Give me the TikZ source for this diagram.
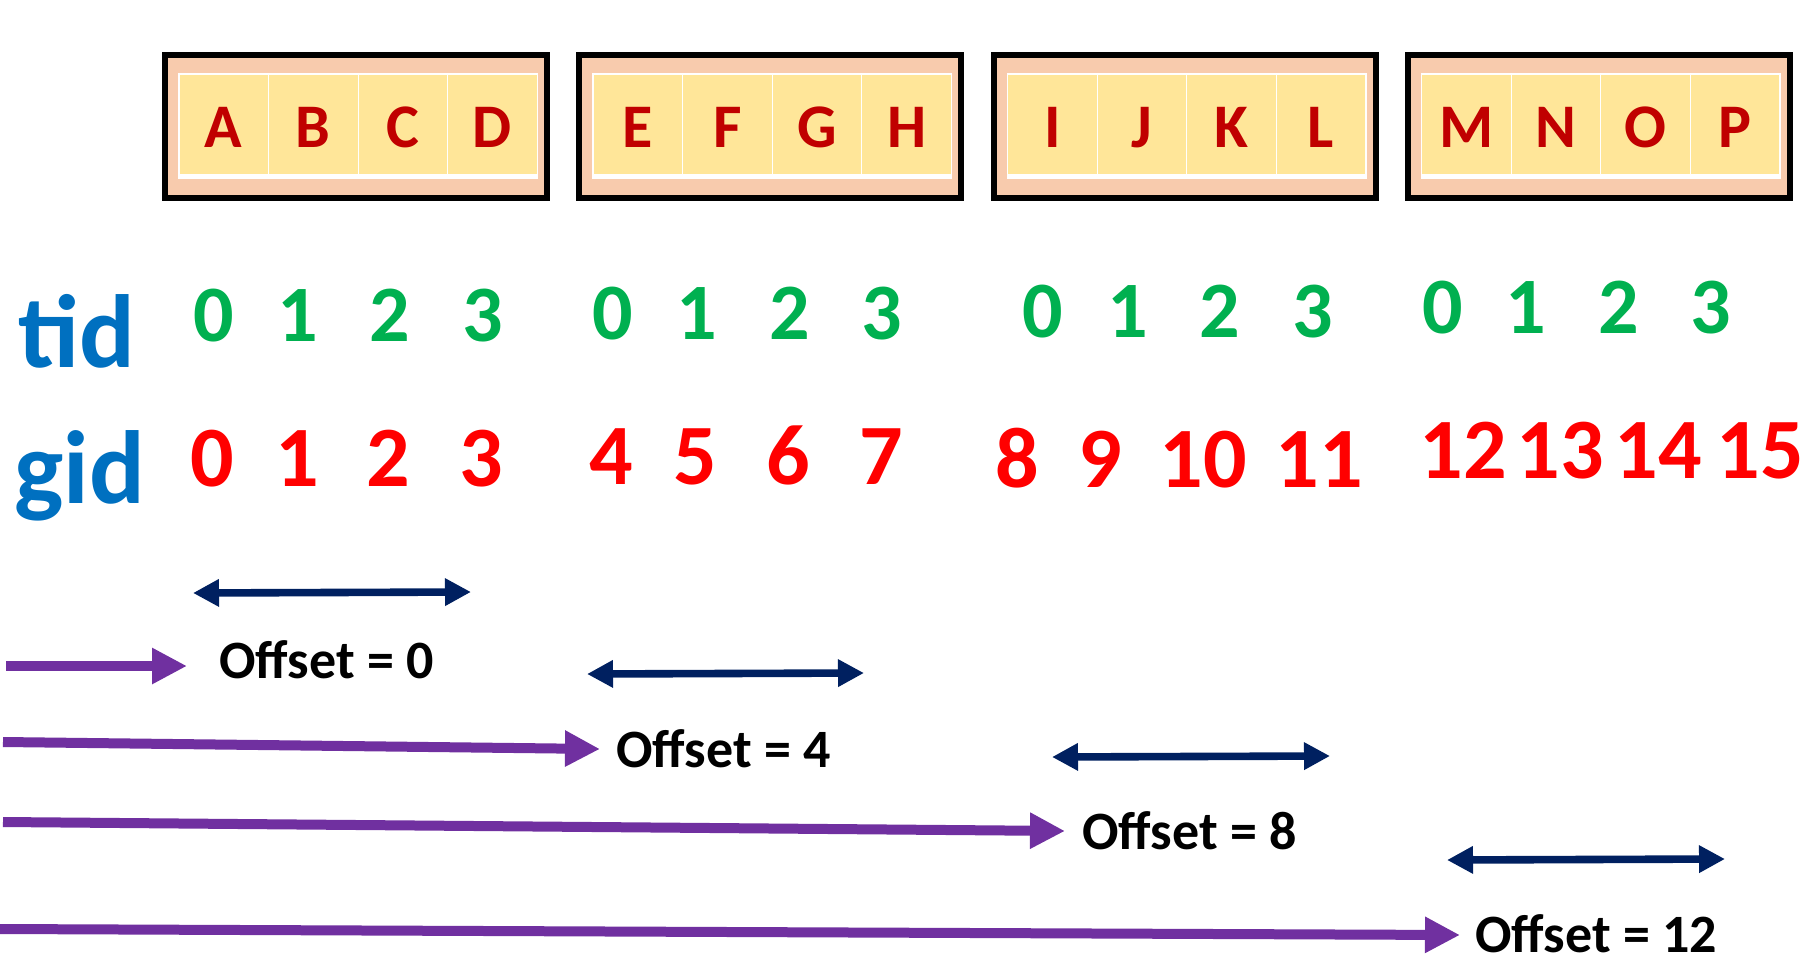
\documentclass[tikz,border=0pt]{standalone}
\usepackage{fontspec}
\setmainfont{Carlito}
\usetikzlibrary{arrows.meta}

\definecolor{peach}{HTML}{F8CBAD}
\definecolor{cellyellow}{HTML}{FFE699}
\definecolor{letterred}{HTML}{C00000}
\definecolor{tidgreen}{HTML}{00B050}
\definecolor{labelblue}{HTML}{0070C0}
\definecolor{offpurple}{HTML}{7030A0}
\definecolor{spannavy}{HTML}{002060}

\begin{document}
\begin{tikzpicture}[x=0.5pt, y=-0.5pt,
  letter/.style={text=letterred, font=\fontsize{31}{31}\selectfont\bfseries, anchor=base, inner sep=0pt},
  tidnum/.style={text=tidgreen, font=\fontsize{40}{40}\selectfont\bfseries, anchor=base, inner sep=0pt},
  gidnum/.style={text=red, font=\fontsize{43}{43}\selectfont\bfseries, anchor=base, inner sep=0pt},
  rowlabel/.style={text=labelblue, font=\fontsize{52}{52}\selectfont\bfseries, anchor=base, inner sep=0pt},
  offlabel/.style={font=\fontsize{27}{27}\selectfont\bfseries, anchor=base west, inner sep=0pt},
  toarrow/.style={offpurple, line width=5pt, -{Triangle[length=17.5pt, width=17pt]}},
  spanarrow/.style={spannavy, line width=3.8pt, {Triangle[length=13pt, width=13pt]}-{Triangle[length=13pt, width=13pt]}}]
\useasboundingbox (0,0) rectangle (1815,964);

% Blocks of four cells (peach frame, yellow cells)
\foreach \bx in {162,576.3,990.6,1404.9} {
  \draw[fill=peach, line width=3pt] (\bx+3,55) rectangle (\bx+385,198);
  \fill[white] (\bx+16,73) rectangle (\bx+376,179);
  \foreach \j in {0,...,3}
    \fill[cellyellow] ({\bx+17.5+89.5*\j},75) rectangle ({\bx+16.5+89.5*(\j+1)},174);
}

% Letters A..P
\foreach \l [count=\n from 0] in {A,...,P} {
  \pgfmathsetmacro\lx{162+414.3*int(\n/4)+17+89.5*(mod(\n,4)+0.5)}
  \node[letter] (cell\l) at (\lx,147) {\l};
}

% Row labels
\node[rowlabel] (tidlabel) at (77,367) {tid};
\node[rowlabel] (gidlabel) at (80,503) {gid};

% Thread ids (green)
\foreach \tx/\ty [count=\n from 0] in {214/341,298/341,390/341,483/341,
    613/339,697/339,790/339,882/339,1043/337,1128/337,1220/337,1313/337,
    1443/333,1526/333,1619/333,1711/333} {
  \pgfmathtruncatemacro\tv{mod(\n,4)}
  \node[tidnum] (tid\n) at (\tx,\ty) {\tv};
}

% Global ids (red)
\foreach \gx/\gy [count=\n from 0] in {212/486,297/486,388/486,481/486,
    611/484,695/484,788/484,881/484,1017/487,1100/487,1203/487,1319/487,
    1463/478,1560/478,1658/478,1760/478}
  \node[gidnum] (gid\n) at (\gx,\gy) {\n};

% Spans of each block (navy)
\coordinate (spanL0) at (193,593);  \coordinate (spanR0) at (471,592);
\coordinate (spanL1) at (587,674);  \coordinate (spanR1) at (864,673);
\coordinate (spanL2) at (1052,757); \coordinate (spanR2) at (1330,756);
\coordinate (spanL3) at (1447,860); \coordinate (spanR3) at (1725,859);
\draw[spanarrow] (spanL0) -- (spanR0);
\draw[spanarrow] (spanL1) -- (spanR1);
\draw[spanarrow] (spanL2) -- (spanR2);
\draw[spanarrow] (spanL3) -- (spanR3);

% Offsets (purple)
\node[offlabel] (off0) at (219,678) {Offset = 0};
\node[offlabel] (off4) at (616,767) {Offset = 4};
\node[offlabel] (off8) at (1082,849) {Offset = 8};
\node[offlabel] (off12) at (1475,952) {Offset = 12};
\coordinate (from0) at (6,666);  \coordinate (to0) at (187,666);
\coordinate (from4) at (3,742);  \coordinate (to4) at (600,749);
\coordinate (from8) at (3,822);  \coordinate (to8) at (1065,831);
\coordinate (from12) at (0,929); \coordinate (to12) at (1460,935);
\draw[toarrow] (from0) -- (to0);
\draw[toarrow] (from4) -- (to4);
\draw[toarrow] (from8) -- (to8);
\draw[toarrow] (from12) -- (to12);
\end{tikzpicture}
\end{document}
